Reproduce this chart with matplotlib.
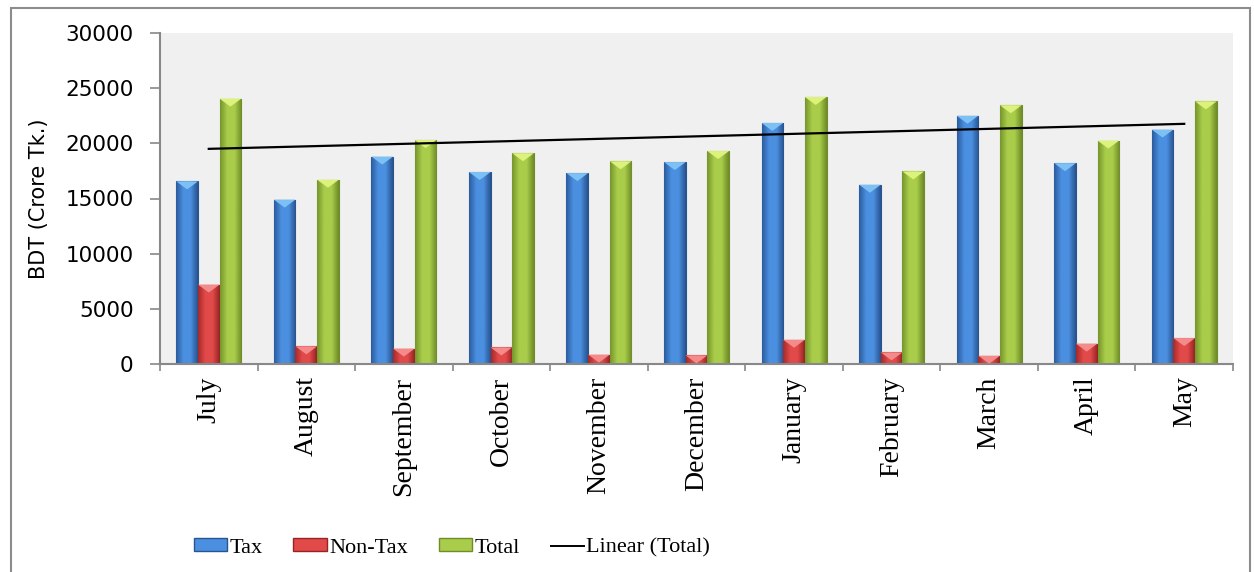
import numpy as np
import matplotlib
matplotlib.use("Agg")
import matplotlib.pyplot as plt
from matplotlib.colors import LinearSegmentedColormap
from matplotlib.patches import Patch, Polygon, Rectangle
from matplotlib.lines import Line2D

months = ["July", "August", "September", "October", "November", "December",
          "January", "February", "March", "April", "May"]
tax = [16550, 14900, 18800, 17400, 17300, 18300, 21850, 16250, 22500, 18200, 21250]
non_tax = [7200, 1600, 1400, 1500, 850, 780, 2200, 1050, 750, 1850, 2350]
total = [24050, 16700, 20300, 19100, 18370, 19300, 24200, 17450, 23450, 20250, 23800]

# gradient colours: edge, middle, edge, top chevron
styles = {
    "Tax": ("#2b5c9e", "#4b8fe0", "#28548f", "#7cc0f4"),
    "Non-Tax": ("#a52a2a", "#e24a4a", "#952424", "#f48a8a"),
    "Total": ("#76952c", "#a9cd4a", "#6f8c28", "#dcf27a"),
}

W, H = 1254, 572
fig = plt.figure(figsize=(W / 100, H / 100), dpi=100)
ax = fig.add_axes([160 / W, 1 - 364 / H, (1233 - 160) / W, (364 - 33) / H])
ax.set_facecolor("#f0f0f0")

x = np.arange(len(months))
bw = 0.222
px = 30000 / 331.0  # data units per pixel in y


def grad_bars(xs, vals, name):
    c0, c1, c2, ctop = styles[name]
    bars = ax.bar(xs, vals, bw, color=c1, edgecolor=c2, linewidth=0.8, zorder=2)
    cmap = LinearSegmentedColormap.from_list(name, [c0, c1, c1, c2])
    grad = np.linspace(0, 1, 64).reshape(1, -1)
    for b, xc, v in zip(bars, xs, vals):
        im = ax.imshow(grad, cmap=cmap, aspect="auto", zorder=2.5,
                       extent=[xc - bw / 2, xc + bw / 2, 0, v])
        im.set_clip_path(b)
        d = min(8 * px, v)
        tri = Polygon([[xc - bw / 2, v], [xc + bw / 2, v], [xc, v - d]],
                      closed=True, facecolor=ctop, edgecolor="none", zorder=3)
        ax.add_patch(tri)
    return bars


grad_bars(x - bw, tax, "Tax")
grad_bars(x, non_tax, "Non-Tax")
grad_bars(x + bw, total, "Total")

# linear trend of total
k, b0 = np.polyfit(x, total, 1)
ax.plot(x, k * x + b0, color="black", lw=1.6, zorder=4)

ax.set_xlim(-0.5, len(months) - 0.5)
ax.set_ylim(0, 30000)
ax.set_yticks(range(0, 30001, 5000))
ax.tick_params(axis="y", direction="out", length=7, width=1.2, color="#888888",
               labelsize=15.5, pad=12)
ax.set_xticks(x)
ax.set_xticklabels(months, rotation=90, family="Liberation Serif", fontsize=20)
ax.set_xticks(np.arange(-0.5, len(months)), minor=True)
ax.tick_params(axis="x", which="major", length=0, pad=9)
ax.tick_params(axis="x", which="minor", direction="out", length=5, width=1.2,
               color="#888888")
for s in ["top", "right"]:
    ax.spines[s].set_visible(False)
for s in ["left", "bottom"]:
    ax.spines[s].set_color("#888888")
    ax.spines[s].set_linewidth(1.5)
ax.set_ylabel("BDT (Crore Tk.)", fontsize=15, labelpad=12)

handles = [
    Patch(facecolor=styles["Tax"][1], edgecolor=styles["Tax"][2]),
    Patch(facecolor=styles["Non-Tax"][1], edgecolor=styles["Non-Tax"][2]),
    Patch(facecolor=styles["Total"][1], edgecolor=styles["Total"][2]),
    Line2D([0], [0], color="black", lw=1.4),
]
fig.legend(handles, ["Tax", "Non-Tax", "Total", "Linear (Total)"], ncol=4,
           loc="center", bbox_to_anchor=(452 / W, 24 / H), frameon=False,
           prop={"family": "Liberation Serif", "size": 16},
           handlelength=1.5, handleheight=0.5, handletextpad=0.1,
           columnspacing=1.4)

fig.patches.append(Rectangle((11, -10), 1239, H - 8 + 10, transform=None,
                             fill=False, edgecolor="#8c8c8c", lw=1.5))

fig.savefig("out.png", dpi=100)
